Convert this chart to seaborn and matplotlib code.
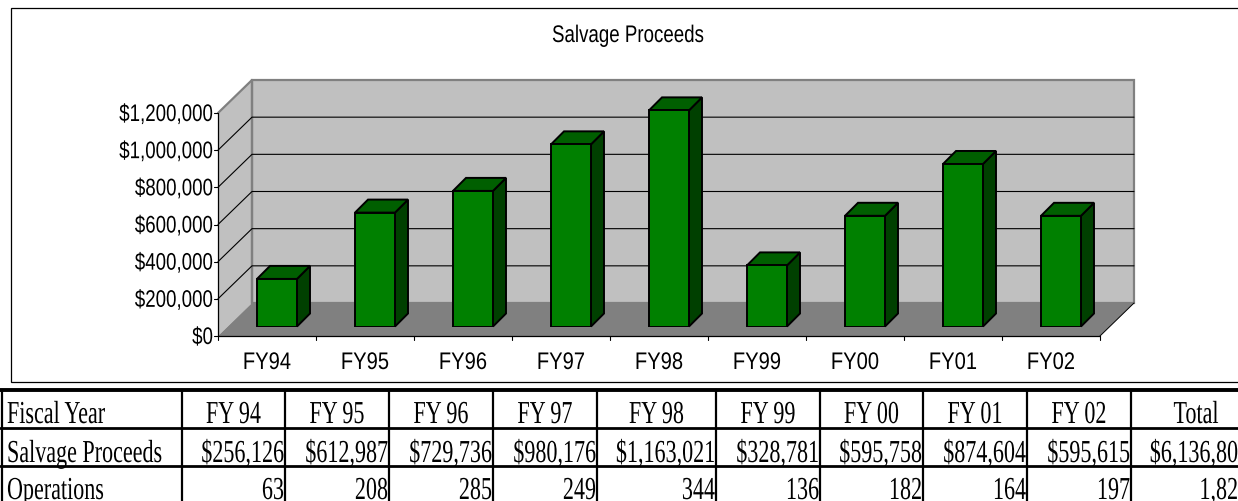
import matplotlib
matplotlib.use('Agg')
import matplotlib.pyplot as plt
import matplotlib.patheffects as pe
from matplotlib.patches import Polygon, Rectangle
from matplotlib.transforms import Affine2D
import pandas as pd
import seaborn as sns

years = ['FY94', 'FY95', 'FY96', 'FY97', 'FY98', 'FY99', 'FY00', 'FY01', 'FY02']
proceeds = [256126, 612987, 729736, 980176, 1163021, 328781, 595758, 874604, 595615]
operations = [63, 208, 285, 249, 344, 136, 182, 164, 197]
y_ticks = [0, 200000, 400000, 600000, 800000, 1000000, 1200000]
table_years = ['FY 94', 'FY 95', 'FY 96', 'FY 97', 'FY 98', 'FY 99', 'FY 00', 'FY 01', 'FY 02', 'Total']
table_proceeds = ['$256,126', '$612,987', '$729,736', '$980,176', '$1,163,021', '$328,781',
                  '$595,758', '$874,604', '$595,615', '$6,136,80']
table_ops = [str(v) for v in operations] + ['1,82']
row_names = ['Fiscal Year', 'Salvage Proceeds', 'Operations']

W, H = 1238, 502
SANS = 'Liberation Sans'
SERIF = 'Liberation Serif'

# Layout in pixels of the fake 3D box
left, right, front_y = 218, 1100, 337
depth_x, depth_y = 34, 33
box_h = 223
bar_gap = 10
bar_depth = 13
px_per_unit = box_h / 1200000
col_x = [2, 182, 285, 389, 493, 597, 716, 820, 923, 1027, 1131]
row_y = [391, 429, 467]
baselines = [424, 463, 500]


class Squeeze(pe.AbstractPathEffect):
    # squeezes a text sideways around its anchor, the original has tight lettering
    def __init__(self, sx, anchor):
        super().__init__()
        self.sx = sx
        self.anchor = anchor

    def draw_path(self, renderer, gc, tpath, affine, rgbFace=None):
        squeeze = Affine2D().translate(-self.anchor, 0).scale(self.sx, 1).translate(self.anchor, 0)
        renderer.draw_path(gc, tpath, affine + squeeze, rgbFace)


def put_text(x, y, s, px, family, ha='center', sx=0.78):
    t = bg.text(x, y, s, fontsize=px * 0.72, family=family, ha=ha, va='baseline', color='black')
    t.set_path_effects([Squeeze(sx, x)])
    return t


sns.set_theme(style='white')
fig = plt.figure(figsize=(W / 100, H / 100), dpi=100)

# Background axes in pixel coordinates for frame, walls and table
bg = fig.add_axes([0, 0, 1, 1])
bg.set_xlim(0, W)
bg.set_ylim(H, 0)
bg.axis('off')

bg.add_patch(Rectangle((11, 8.5), W, 374.5, fc='white', ec='black', lw=0.9))

top_front = front_y - box_h
back_x, back_y = left + depth_x, front_y - depth_y
bg.add_patch(Polygon([(left, top_front), (back_x, top_front - depth_y),
                      (back_x, back_y), (left, front_y)], fc='#c0c0c0', ec='none'))
bg.add_patch(Rectangle((back_x, top_front - depth_y), right - left, box_h, fc='#c0c0c0',
                       ec='#808080', lw=1.6))
bg.add_patch(Polygon([(left, front_y), (back_x, back_y),
                      (right + depth_x, back_y), (right, front_y)], fc='#808080', ec='none'))
bg.plot([left, back_x], [top_front, top_front - depth_y], color='#808080', lw=1.6)
bg.plot([back_x, back_x], [top_front - depth_y, back_y], color='#808080', lw=1.6)
bg.plot([right, right + depth_x], [front_y, back_y], color='black', lw=0.7)

# Gridlines on the left and back walls
for v in y_ticks[1:-1]:
    y = front_y - v * px_per_unit
    bg.plot([left, back_x, right + depth_x], [y, y - depth_y, y - depth_y], color='black', lw=0.8)
for v in y_ticks:
    y = front_y - v * px_per_unit
    bg.plot([left - 4, left], [y, y], color='black', lw=0.8)
    put_text(left - 5, y + 8, f'${v:,}', 24, SANS, ha='right')

bg.plot([left, left], [top_front, front_y], color='black', lw=0.9)
bg.plot([left, right], [front_y, front_y], color='black', lw=0.9)
step = (right - left) / len(years)
for i in range(len(years) + 1):
    bg.plot([left + i * step] * 2, [front_y, front_y + 4], color='black', lw=0.8)
for i, name in enumerate(years):
    put_text(left + (i + 0.5) * step, 370, name, 24, SANS, sx=0.84)
put_text(628, 43, 'Salvage Proceeds', 24, SANS)

# Front faces of the bars
df = pd.DataFrame({'year': years, 'proceeds': proceeds})
ax = fig.add_axes([(left + bar_gap) / W, (H - front_y + bar_gap - 0.5) / H, (right - left) / W, box_h / H])
ax.patch.set_alpha(0)
sns.barplot(data=df, x='year', y='proceeds', color='#008000', saturation=1, width=0.408,
            edgecolor='black', linewidth=1.4, ax=ax)
ax.set_xlim(-0.5, len(years) - 0.5)
ax.set_ylim(0, 1200000)
ax.axis('off')

# Side and top faces are worked out from the drawn bars
for bar in ax.patches:
    x0, y0 = ax.transData.transform((bar.get_x(), 0))
    x1, y1 = ax.transData.transform((bar.get_x() + bar.get_width(), bar.get_height()))
    y0, y1 = H - y0, H - y1
    bg.add_patch(Polygon([(x1, y1), (x1 + bar_depth, y1 - bar_depth), (x1 + bar_depth, y0 - bar_depth), (x1, y0)],
                         fc='#004000', ec='black', lw=1.4, zorder=3))
    bg.add_patch(Polygon([(x0, y1), (x0 + bar_depth, y1 - bar_depth), (x1 + bar_depth, y1 - bar_depth), (x1, y1)],
                         fc='#005f00', ec='black', lw=1.4, zorder=3))

# Table
bg.plot([0, W], [row_y[0], row_y[0]], color='black', lw=2.8)
for y in row_y[1:]:
    bg.plot([0, W], [y, y], color='black', lw=2)
for x in col_x:
    bg.plot([x, x], [row_y[0], H], color='black', lw=1.6)
for r, name in enumerate(row_names):
    put_text(col_x[0] + 5, baselines[r], name, 32, SERIF, ha='left', sx=0.69)
for i in range(10):
    cx = (col_x[i + 1] + col_x[i + 2]) / 2 if i < 9 else 1196
    put_text(cx, baselines[0], table_years[i], 32, SERIF, sx=0.69)
    rx = col_x[i + 2] - 1 if i < 9 else W
    put_text(rx, baselines[1], table_proceeds[i], 32, SERIF, ha='right', sx=0.69)
    put_text(rx, baselines[2], table_ops[i], 32, SERIF, ha='right', sx=0.69)

fig.savefig('out.png', dpi=100)
